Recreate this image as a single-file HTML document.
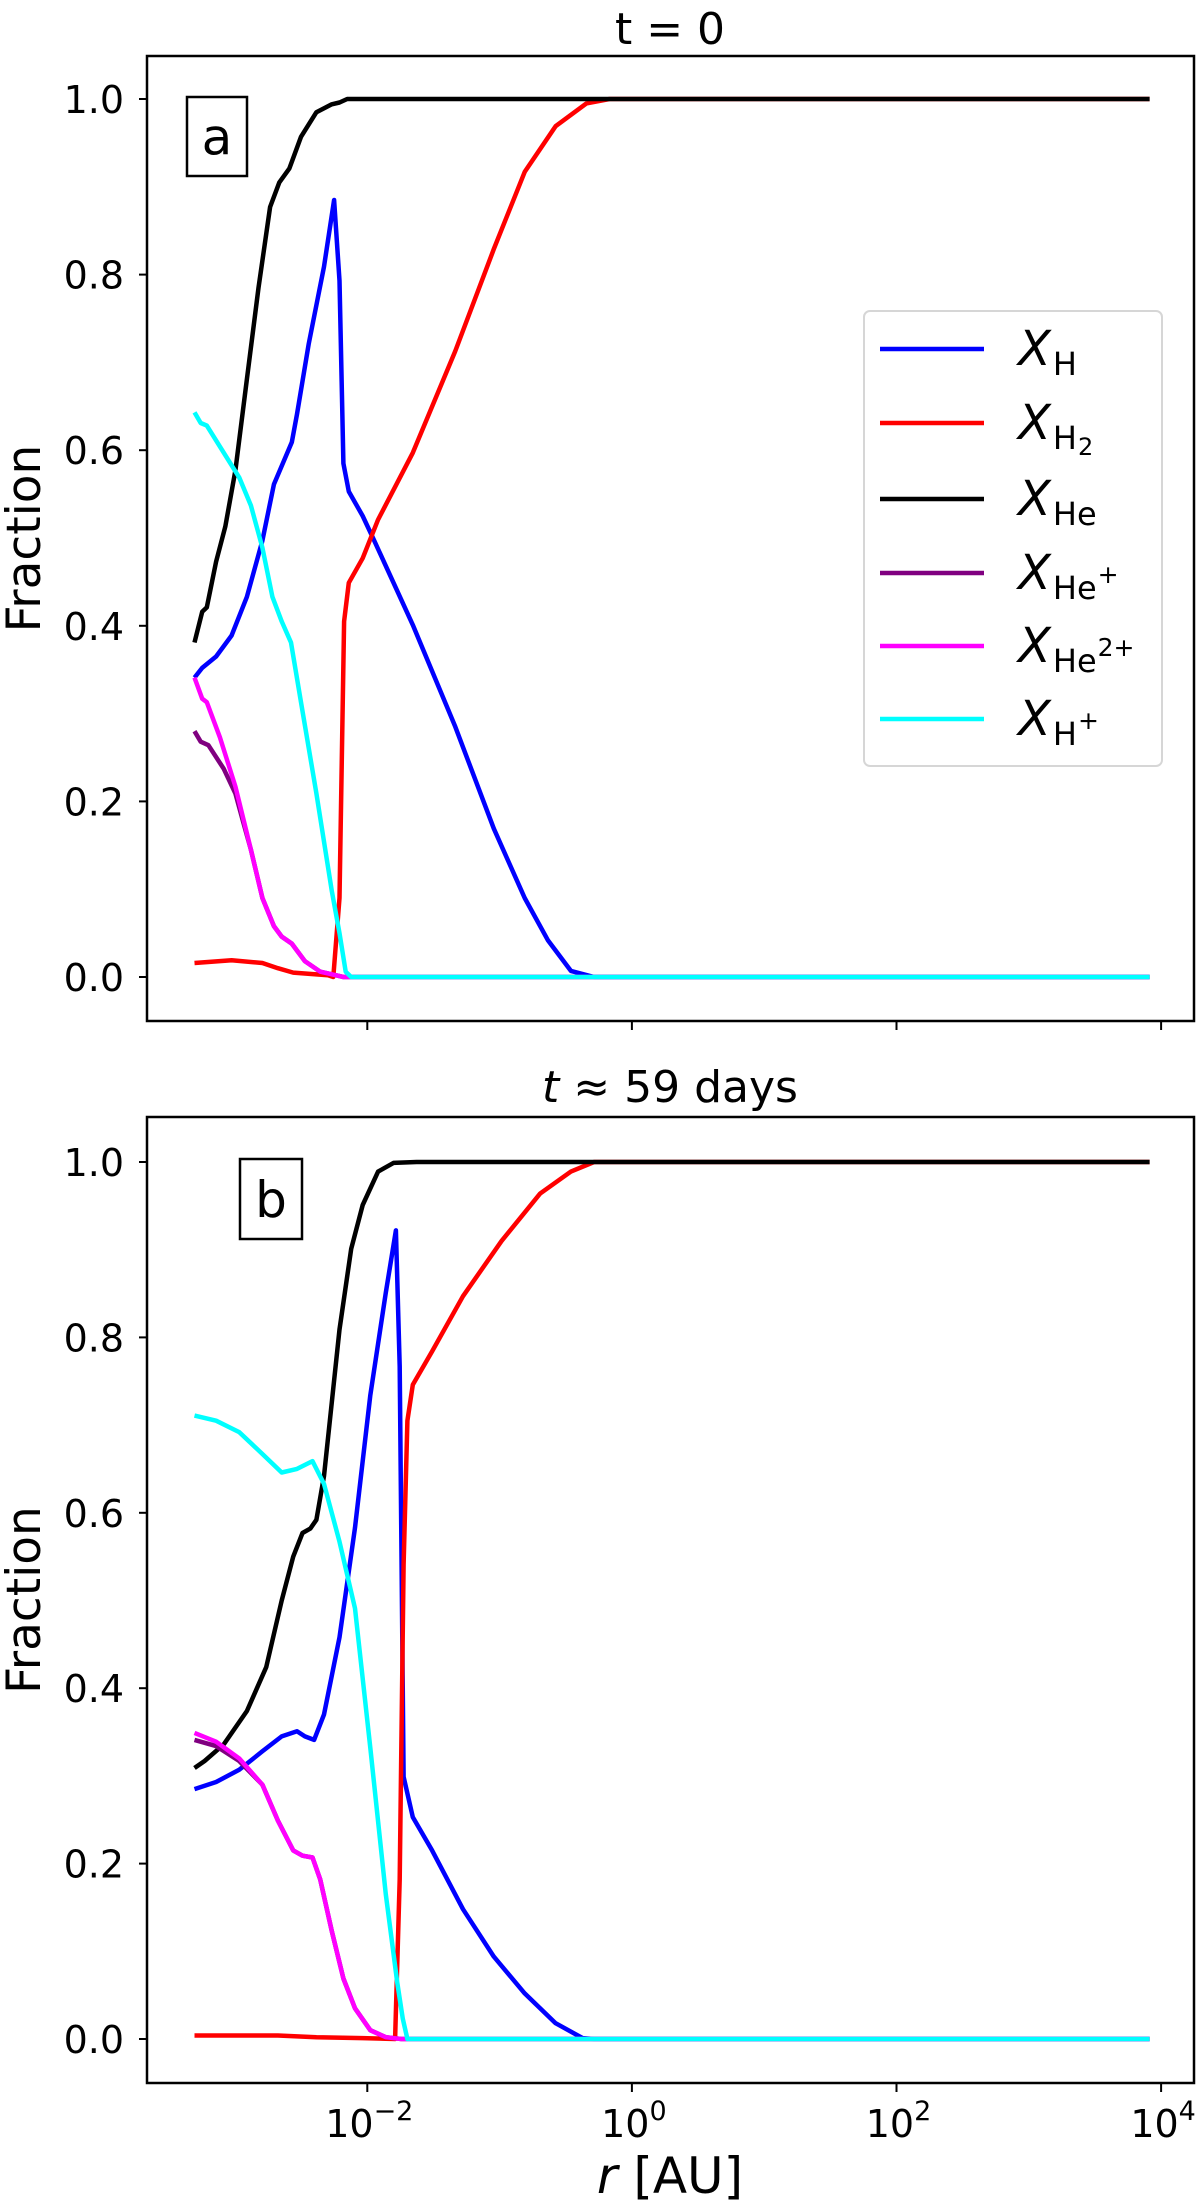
<!DOCTYPE html>
<html><head><meta charset="utf-8"><style>
html,body{margin:0;padding:0;background:#fff;}
svg text{font-family:"DejaVu Sans","Liberation Sans",sans-serif;}
</style></head><body>
<svg id="fig" width="1200" height="2201" viewBox="0 0 1200 2201" xmlns="http://www.w3.org/2000/svg">
<rect x="0" y="0" width="1200" height="2201" fill="#fff"/>
</svg>
<script>
// ---- data: x in log10(r [AU]), y fraction ----
const xTickExp = [-2, 0, 2, 4];
const yTickLabels = ["0.0","0.2","0.4","0.6","0.8","1.0"];
const yTickValues = [0,0.2,0.4,0.6,0.8,1.0];

// Panel a (t = 0)
const aH_x  = [-3.306,-3.248,-3.143,-3.026,-2.910,-2.793,-2.706,-2.571,-2.531,-2.443,-2.327,-2.251,-2.210,-2.181,-2.140,-2.035,-1.948,-1.656,-1.335,-1.044,-0.810,-0.636,-0.461,-0.286,3.913];
const aH_y  = [0.341,0.352,0.365,0.389,0.433,0.497,0.561,0.609,0.641,0.721,0.809,0.885,0.793,0.585,0.553,0.525,0.497,0.401,0.285,0.169,0.090,0.042,0.007,0,0];
const aH2_x = [-3.306,-3.026,-2.793,-2.676,-2.560,-2.297,-2.257,-2.210,-2.175,-2.140,-2.035,-1.918,-1.656,-1.335,-1.044,-0.810,-0.577,-0.344,-0.169,3.913];
const aH2_y = [0.016,0.019,0.016,0.010,0.005,0.002,0,0.090,0.405,0.449,0.477,0.521,0.597,0.713,0.829,0.917,0.969,0.995,1.0,1.0];
const aHe_x = [-3.306,-3.248,-3.213,-3.143,-3.073,-2.997,-2.910,-2.822,-2.735,-2.665,-2.589,-2.501,-2.385,-2.268,-2.210,-2.152,3.913];
const aHe_y = [0.381,0.416,0.421,0.473,0.513,0.577,0.681,0.785,0.877,0.905,0.921,0.957,0.985,0.994,0.996,1.0,1.0];
const aHep_x = [-3.306,-3.259,-3.201,-3.085,-2.997,-2.939,-2.880,-2.793,-2.706,-2.647,-2.571,-2.472,-2.356,-2.239,-2.181,3.913];
const aHep_y = [0.280,0.268,0.264,0.237,0.209,0.177,0.145,0.090,0.058,0.046,0.038,0.018,0.006,0.002,0,0];
const aHe2_x = [-3.306,-3.248,-3.213,-3.114,-2.997,-2.880,-2.793,-2.706,-2.647,-2.571,-2.472,-2.356,-2.239,-2.181,3.913];
const aHe2_y = [0.341,0.317,0.313,0.273,0.217,0.145,0.090,0.058,0.046,0.038,0.018,0.006,0.002,0,0];
const aHp_x = [-3.306,-3.259,-3.213,-3.085,-2.968,-2.880,-2.793,-2.717,-2.647,-2.577,-2.501,-2.385,-2.268,-2.210,-2.163,-2.122,3.913];
const aHp_y = [0.643,0.631,0.628,0.597,0.569,0.537,0.489,0.433,0.405,0.381,0.313,0.209,0.098,0.050,0.006,0,0];

// Panel b (t ≈ 59 days)
const bH_x  = [-3.306,-3.143,-2.968,-2.793,-2.647,-2.531,-2.472,-2.402,-2.327,-2.210,-2.093,-1.977,-1.860,-1.784,-1.755,-1.726,-1.656,-1.510,-1.277,-1.044,-0.810,-0.577,-0.373,-0.286,3.913];
const bH_y  = [0.285,0.293,0.307,0.328,0.345,0.351,0.345,0.341,0.370,0.458,0.583,0.734,0.851,0.922,0.767,0.299,0.253,0.215,0.148,0.094,0.052,0.018,0.001,0,0];
const bH2_x = [-3.306,-2.676,-2.385,-2.035,-1.790,-1.755,-1.726,-1.697,-1.656,-1.510,-1.277,-0.985,-0.694,-0.461,-0.286,3.913];
const bH2_y = [0.004,0.004,0.002,0.001,0,0.182,0.541,0.705,0.746,0.784,0.847,0.910,0.964,0.989,1.0,1.0];
const bHe_x = [-3.306,-3.230,-3.085,-2.910,-2.764,-2.647,-2.560,-2.490,-2.431,-2.385,-2.327,-2.268,-2.210,-2.122,-2.035,-1.918,-1.802,-1.627,3.913];
const bHe_y = [0.309,0.317,0.336,0.374,0.424,0.500,0.550,0.577,0.582,0.592,0.642,0.726,0.809,0.901,0.951,0.989,0.999,1.0,1.0];
const bHep_x = [-3.306,-3.143,-2.968,-2.793,-2.676,-2.560,-2.490,-2.414,-2.356,-2.268,-2.181,-2.093,-1.977,-1.860,-1.744,3.913];
const bHep_y = [0.341,0.334,0.317,0.290,0.249,0.215,0.209,0.207,0.182,0.123,0.069,0.035,0.010,0.002,0,0];
const bHe2_x = [-3.306,-3.143,-2.968,-2.793,-2.676,-2.560,-2.490,-2.414,-2.356,-2.268,-2.181,-2.093,-1.977,-1.860,-1.744,3.913];
const bHe2_y = [0.349,0.339,0.320,0.290,0.249,0.215,0.209,0.207,0.182,0.123,0.069,0.035,0.010,0.002,0,0];
const bHp_x = [-3.306,-3.143,-2.968,-2.793,-2.647,-2.531,-2.414,-2.327,-2.210,-2.093,-1.977,-1.860,-1.773,-1.732,-1.697,3.913];
const bHp_y = [0.711,0.705,0.692,0.667,0.646,0.650,0.659,0.633,0.567,0.491,0.332,0.165,0.064,0.023,0,0];

const NS = "http://www.w3.org/2000/svg";
const svg = document.getElementById("fig");
function mk(tag, attrs, parent){ const e=document.createElementNS(NS,tag); for(const k in attrs) e.setAttribute(k,attrs[k]); (parent||svg).appendChild(e); return e; }

const X0 = 147, X1 = 1194;
function xScale(l){ return 367.3 + (l + 2) * 132.3; }

const panels = [
  {id:"a", top:56, bottom:1021, y1:99, y0:977, title:"t = 0", titleItalic:false, titleY:44, label:"a", lbox:[187,97,60,79],
   series:[[aH_x,aH_y,"#0000ff","x-h"],[aH2_x,aH2_y,"#ff0000","x-h2"],[aHe_x,aHe_y,"#000000","x-he"],[aHep_x,aHep_y,"#800080","x-he-plus"],[aHe2_x,aHe2_y,"#ff00ff","x-he2-plus"],[aHp_x,aHp_y,"#00ffff","x-h-plus"]], xlabels:false, legend:true},
  {id:"b", top:1117, bottom:2083, y1:1162, y0:2039, title:"59 days", titleItalic:true, titleY:1102, label:"b", lbox:[240,1159,62,80],
   series:[[bH_x,bH_y,"#0000ff","x-h"],[bH2_x,bH2_y,"#ff0000","x-h2"],[bHe_x,bHe_y,"#000000","x-he"],[bHep_x,bHep_y,"#800080","x-he-plus"],[bHe2_x,bHe2_y,"#ff00ff","x-he2-plus"],[bHp_x,bHp_y,"#00ffff","x-h-plus"]], xlabels:true, legend:false}
];

panels.forEach(p=>{
  const g = mk("g",{});
  
  
  const yScale = v => p.y0 + (p.y1 - p.y0) * v;
  const t = mk("text",{x:670,y:p.titleY,"font-size":44,"text-anchor":"middle",fill:"#000"},g);
  
  
  if(p.titleItalic){
    const s1=mk("tspan",{"font-style":"italic"},t); s1.textContent="t";
    const s2=mk("tspan",{},t); s2.textContent=" ≈ "+p.title;
  } else t.textContent=p.title;
  p.series.forEach(s=>{
    let d="";
    for(let i=0;i<s[0].length;i++){ d += (i?"L":"M") + xScale(s[0][i]).toFixed(1) + "," + yScale(s[1][i]).toFixed(1); }
    const path = mk("path",{d:d,fill:"none",stroke:s[2],"stroke-width":4.5,"stroke-linejoin":"round","stroke-linecap":"butt"},g);
    
    
  });
  const fr = mk("rect",{x:X0,y:p.top,width:X1-X0,height:p.bottom-p.top,fill:"none",stroke:"#000","stroke-width":2.5},g);
  
  
  yTickValues.forEach((v,i)=>{
    const y=yScale(v);
    const tk=mk("line",{x1:X0-8,x2:X0,y1:y,y2:y,stroke:"#000","stroke-width":2},g);
    
    
    const tl=mk("text",{x:124,y:y+14,"font-size":38,"text-anchor":"end",fill:"#000"},g);
    
    
    tl.textContent=yTickLabels[i];
  });
  xTickExp.forEach(e=>{
    const x=xScale(e);
    const tk=mk("line",{x1:x,x2:x,y1:p.bottom,y2:p.bottom+9,stroke:"#000","stroke-width":2},g);
    
    
    if(p.xlabels){
      const tl=mk("text",{x:x+2,y:2137,"font-size":38,"text-anchor":"middle",fill:"#000"},g);
      
      
      const a=mk("tspan",{},tl); a.textContent="10";
      const b=mk("tspan",{"font-size":27,dy:-17},tl); b.textContent=(e<0?"−":"")+Math.abs(e);
    }
  });
  const yl=mk("text",{x:0,y:0,"font-size":47,"text-anchor":"middle",fill:"#000",transform:"translate(40,"+((p.top+p.bottom)/2)+") rotate(-90)"},g);
  
  
  yl.textContent="Fraction";
  const lb=mk("rect",{x:p.lbox[0],y:p.lbox[1],width:p.lbox[2],height:p.lbox[3],fill:"#fff",stroke:"#000","stroke-width":2.5},g);
  
  
  const lt=mk("text",{x:p.lbox[0]+p.lbox[2]/2,y:p.lbox[1]+p.lbox[3]/2+18,"font-size":50,"text-anchor":"middle",fill:"#000"},g);
  
  
  lt.textContent=p.label;

  if(p.legend){
    const lg=mk("g",{},g);
    
    
    mk("rect",{x:864,y:311,width:298,height:455,rx:6,fill:"#fff",stroke:"#d6d6d6","stroke-width":2},lg);
    const entries=[["#0000ff","H",""],["#ff0000","H","2"],["#000000","He",""],["#800080","He","+"],["#ff00ff","He","2+"],["#00ffff","H","+"]];
    const ys=[349,423,499,573,646,719];
    entries.forEach((en,i)=>{
      const eg=mk("g",{},lg);
      
      
      mk("line",{x1:880,x2:984,y1:ys[i],y2:ys[i],stroke:en[0],"stroke-width":4.5},eg);
      const tx=mk("text",{x:1018,y:ys[i]+16,"font-size":48,fill:"#000"},eg);
      const s1=mk("tspan",{"font-style":"italic"},tx); s1.textContent="X";
      const s2=mk("tspan",{"font-size":32,dy:10,dx:2},tx); s2.textContent=en[1];
      if(en[2]){
        const isSub = en[2]==="2";
        const s3=mk("tspan",{"font-size":isSub?24:25,dy:isSub?6:-16,dx:1},tx); s3.textContent=en[2];
      }
    });
  }
});
const xt=mk("text",{x:670,y:2193,"font-size":50,"text-anchor":"middle",fill:"#000"});


const r1=mk("tspan",{"font-style":"italic"},xt); r1.textContent="r";
const r2=mk("tspan",{},xt); r2.textContent=" [AU]";
</script>
</body></html>
